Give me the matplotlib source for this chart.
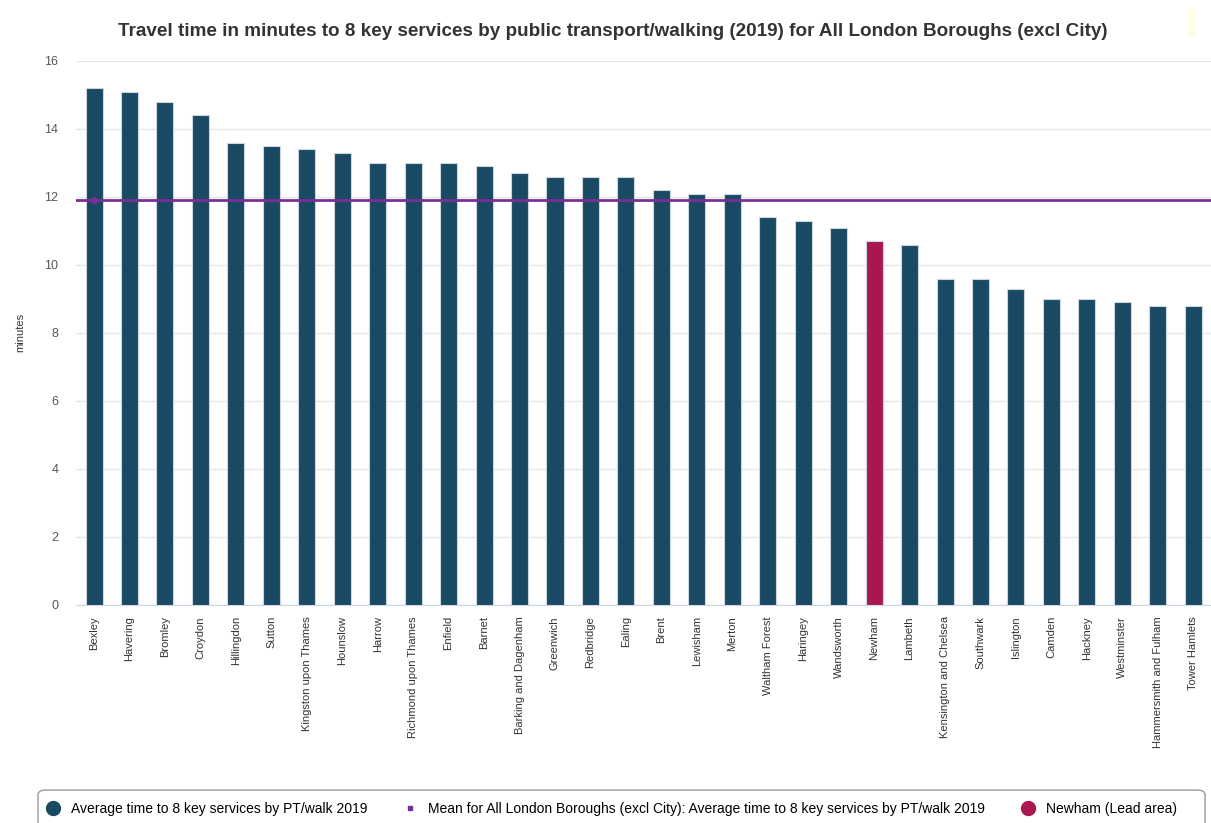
import matplotlib.pyplot as plt
from matplotlib.lines import Line2D
from matplotlib.patches import FancyBboxPatch, Rectangle
import numpy as np

plt.rcParams['font.family'] = ['Liberation Sans', 'DejaVu Sans']

# 數據
boroughs = ['Bexley', 'Havering', 'Bromley', 'Croydon', 'Hillingdon', 'Sutton',
            'Kingston upon Thames', 'Hounslow', 'Harrow', 'Richmond upon Thames',
            'Enfield', 'Barnet', 'Barking and Dagenham', 'Greenwich', 'Redbridge',
            'Ealing', 'Brent', 'Lewisham', 'Merton', 'Waltham Forest', 'Haringey',
            'Wandsworth', 'Newham', 'Lambeth', 'Kensington and Chelsea', 'Southwark',
            'Islington', 'Camden', 'Hackney', 'Westminster', 'Hammersmith and Fulham',
            'Tower Hamlets']
minutes = [15.2, 15.1, 14.8, 14.4, 13.6, 13.5, 13.4, 13.3, 13.0, 13.0,
           13.0, 12.9, 12.7, 12.6, 12.6, 12.6, 12.2, 12.1, 12.1, 11.4, 11.3,
           11.1, 10.7, 10.6, 9.6, 9.6, 9.3, 9.0, 9.0, 8.9, 8.8, 8.8]
mean_london = 11.9
lead_area = 'Newham'

bar_col = '#1a4a63'
lead_col = '#a8174f'
mean_col = '#7a2f96'

fig = plt.figure(figsize=(12.11, 8.23), dpi=100)
ax = fig.add_axes([0.063, 0.265, 0.937, 0.661])

x = np.arange(len(boroughs))
colors = [lead_col if b == lead_area else bar_col for b in boroughs]
ax.bar(x, minutes, width=0.48, color=colors, edgecolor='#c9d6df', linewidth=0.8, zorder=3)

# 平均線
ax.axhline(mean_london, color=mean_col, lw=2, zorder=4)
ax.plot([0], [mean_london], marker='o', ms=4, color=mean_col, zorder=5)

ax.set_xlim(-0.5, len(boroughs) - 0.5)
ax.set_ylim(0, 16)
ax.set_yticks(range(0, 17, 2))
ax.set_xticks(x)
ax.set_xticklabels(boroughs, rotation=90, fontsize=8, color='#333333')
ax.tick_params(axis='x', length=0, pad=8)
ax.tick_params(axis='y', length=0, labelsize=9, colors='#555555', pad=13)
ax.grid(axis='y', color='#e6e6e6', lw=1, zorder=0)
for s in ['top', 'right', 'left']:
    ax.spines[s].set_visible(False)
ax.spines['bottom'].set_color('#ccd6eb')
ax.set_ylabel('minutes', fontsize=8, color='#333333', labelpad=14)

fig.text(0.506, 0.962, 'Travel time in minutes to 8 key services by public transport/walking (2019) for All London Boroughs (excl City)',
         ha='center', va='center', fontsize=13.6, fontweight='bold', color='#333333')

# 圖例
fig.patches.append(FancyBboxPatch((38 / 1211, -0.05), (1205 - 38) / 1211, 0.09,
                                  boxstyle='round,pad=0,rounding_size=0.006',
                                  transform=fig.transFigure, fc='white', ec='#999999', lw=1))
fig.patches.append(Rectangle((1188 / 1211, 1 - 37 / 823), 8 / 1211, 29 / 823,
                             transform=fig.transFigure, fc='#fffde3', ec='none'))
handles = [Line2D([], [], ls='none', marker='o', ms=10, color=bar_col),
           Line2D([], [], ls='none', marker='s', ms=3, color=mean_col),
           Line2D([], [], ls='none', marker='o', ms=10, color=lead_col)]
labels = ['Average time to 8 key services by PT/walk 2019',
          'Mean for All London Boroughs (excl City): Average time to 8 key services by PT/walk 2019',
          'Newham (Lead area)']
fig.legend(handles, labels, loc='center', bbox_to_anchor=(0.502, 1 - 809 / 823), ncol=3,
           frameon=False, fontsize=10, handletextpad=0.3, columnspacing=2.1)

fig.savefig('out.png', dpi=100)
